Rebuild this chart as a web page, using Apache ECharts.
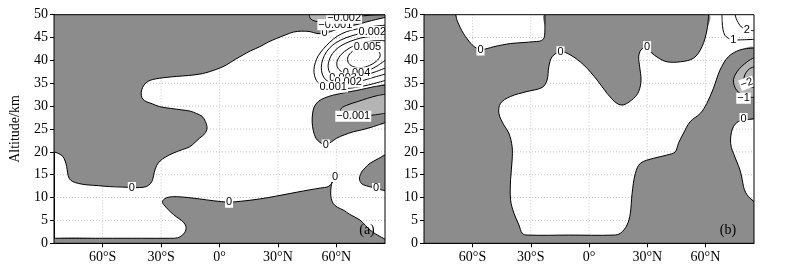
<!DOCTYPE html>
<html><head><meta charset="utf-8">
<script src="https://cdn.jsdelivr.net/npm/echarts@6/dist/echarts.min.js"></script>
<style>html,body{margin:0;padding:0;background:#fff}#c{width:793px;height:271px}</style>
</head><body><div id="c"></div>
<script>
// ---- axes ----
const lonTicks = [-60, -30, 0, 30, 60];
const lonTickLabels = ['60°S', '30°S', '0°', '30°N', '60°N'];
const altTicks = [0, 5, 10, 15, 20, 25, 30, 35, 40, 45, 50];
const gridLonLines = [-60, -30, 0, 30, 60];
const gridAltLines = [5, 10, 15, 20, 25, 30, 35, 40, 45];
const lonRange = [-85, 85];
const altRange = [0, 50];

// ---- panel (a) contours: [lon, alt] ----
const aZeroUpper = [[85,49.4],[78,48.7],[72,48.0],[66,47.4],[61.8,47.0],[57,46.3],[54,45.9],[50,45.9],[46.5,46.3],[42,46.4],[38,46.2],[34,45.6],[29.3,44.8],[25,44.0],[20.7,43.0],[16,42.1],[12.1,41.2],[8,40.2],[3.5,39.0],[0,38.3],[-3.3,37.8],[-7,37.3],[-10.2,37.0],[-16,36.7],[-22.2,36.5],[-27,36.3],[-30.8,36.1],[-34.5,35.8],[-36.8,35.4],[-38.8,34.6],[-39.9,33.6],[-40.2,32.4],[-39.3,31.5],[-37.6,31.0],[-34.5,30.5],[-30.8,29.9],[-25,29.5],[-19.6,29.2],[-15,28.9],[-11.9,28.4],[-9,27.8],[-7.2,26.6],[-6.4,25.2],[-7.5,24.0],[-10.2,23.0],[-12.5,22.1],[-15.3,21.1],[-19,20.5],[-23.9,19.7],[-28,18.8],[-30.5,18.0],[-32.3,17.0],[-33.5,15.5],[-34.3,14.0],[-35.4,13.1],[-37.6,12.4],[-41,12.2],[-45,12.2],[-50,12.3],[-56.5,12.4],[-62,12.6],[-68.5,12.8],[-72.5,13.1],[-75.4,13.5],[-77.2,14.2],[-78,15.4],[-78.5,16.8],[-79.3,18.0],[-80.5,19.0],[-82.5,19.6],[-85,20.0]];
const aZeroBottom = [[-85,1.1],[-60,1.1],[-40,1.1],[-25,1.1],[-21.5,1.2],[-19,1.8],[-17.3,2.9],[-17.5,4.0],[-19.5,5.0],[-22.2,5.8],[-25,6.8],[-27.5,7.9],[-29.3,9.0],[-28.3,9.7],[-26,10.1],[-22.2,10.2],[-16,10.0],[-10.2,9.7],[-3,9.3],[4.9,9.0],[11,9.2],[17.2,9.5],[25,10.0],[32.6,10.6],[40,11.2],[46.4,11.7],[52,12.1],[55.8,12.4],[57.8,13.2],[58.8,14.3],[59.2,14.8],[58.7,14.2],[57.8,13.4],[57.3,12.3],[57.1,11.0],[57.4,9.8],[58.4,8.7],[60.5,7.9],[63.5,7.3],[67,6.3],[72.1,5.1],[75,3.9],[77.3,2.9],[80,2.1],[82.4,1.5],[85,0.9]];
const aZeroRight = [[85,19.3],[81.5,18.5],[77.3,17.5],[74.8,16.5],[73,15.6],[71.9,14.3],[72.5,13.3],[73.9,12.8],[77,12.4],[80.4,12.0],[83,11.7],[85,11.5]];
const aZeroMid = [[85,34.6],[80,34.3],[75.6,33.9],[70,33.4],[65,33.0],[58.4,32.4],[54,31.8],[50.7,31.0],[48.6,29.8],[47.8,28.3],[47.6,26.5],[48.2,24.6],[49.5,23.0],[51.5,22.1],[54.6,21.5],[57.5,22.2],[60.2,23.0],[64,23.7],[68.8,24.4],[73,24.8],[77.3,25.3],[81,25.8],[85,26.4]];
const aNeg1Mid = [[85,32.6],[81,32.3],[76,31.7],[71,31.0],[66,30.3],[62.5,29.5],[62.5,28.6],[65.5,28.0],[68.7,27.8],[73,27.8],[78,28.0],[85,28.4]];
const aNeg1Top = [[46,50],[46.8,49.1],[49,48.6],[53,48.4],[56.5,48.5],[60,48.8],[64,49.2],[70,49.6],[78,49.9],[85,50]];
const aPos1 = [[85,47.7],[80,47.5],[75.6,47.2],[70,46.8],[65.3,46.3],[60.5,45.3],[56.7,44],[53.5,42.6],[50.7,41],[49.2,39.5],[48.5,38],[48.8,36.7],[49.8,35.6],[51.5,34.8],[54,34.3],[58.4,34.0],[62,33.9],[66,33.9],[70,34.1],[74,34.4],[79,34.9],[85,35.6]];
const aPos2 = [[85,46.5],[79,46.3],[74,46.0],[68,45.4],[62,44.4],[58,43.3],[55,41.9],[53,40.2],[52.3,38.5],[52.8,37.0],[54.5,35.8],[57,35.2],[60,34.9],[64,34.9],[68,35.1],[72,35.4],[76,35.9],[80,36.4],[85,37.0]];
const aPos3 = [[85,45.3],[80,45.3],[75,45.1],[70,44.6],[65,43.8],[61,42.8],[58,41.5],[56.3,40.0],[55.8,38.5],[56.8,37.2],[59,36.4],[62,36.0],[66,36.0],[70,36.3],[75,36.8],[80,37.5],[85,38.3]];
const aPos4 = [[85,44.3],[80,44.3],[75,44.0],[70,43.4],[66,42.5],[62.5,41.3],[60.5,39.9],[60.5,38.6],[62.5,37.6],[66,37.1],[69.5,37.0],[73,37.3],[77,37.9],[81,38.8],[85,40.0]];
const aPos5 = [[75.5,42.8],[71,42.5],[67.5,41.7],[65.8,40.5],[66.5,39.3],[69,38.6],[73,38.4],[77,38.9],[80.5,39.8],[82.5,41.0],[81.5,42.1],[78.5,42.7],[75.5,42.8]];
const aLabels = [[-45,12.2,'0',0],[4.9,9.0,'0',0],[54,45.9,'0',0],[54.6,21.5,'0',0],[59.4,14.6,'0',0],[80.4,12.0,'0',0],
  [68.7,27.8,'−0.001',0],[59.5,47.8,'−0.001',0],[64,49.2,'−0.002',0],[78.5,46.3,'0.002',0],[76,43.0,'0.005',0],
  [70.4,37.3,'0.004',0],[63.5,36.1,'0.003',0],[66.1,35.3,'0.002',0],[58.4,34.2,'0.001',0]];

// ---- panel (b) contours ----
const bZeroW1 = [[-68.7,50],[-68,48.8],[-67,47.8],[-65.5,46.5],[-63.6,45.2],[-61.8,44.2],[-60.2,43.4],[-58,42.7],[-55.9,42.3],[-52.5,42.6],[-49,43.0],[-44.5,43.4],[-40.4,43.7],[-34,43.9],[-28.4,44.1],[-25.5,44.2],[-23.6,44.6],[-22.9,45.4],[-22.7,47],[-22.7,50]];
const bZeroW2 = [[61.6,50],[60.8,46.7],[58.2,43.0],[53.9,40.5],[47,39.7],[40.2,39.7],[35.9,40.5],[31.6,41.9],[29.9,43.0],[26.8,42.3],[25.6,40.8],[26.1,38.6],[26.8,35.7],[25.6,33.2],[23,31.7],[17.9,30.3],[14.4,30.6],[9.3,32.8],[4.2,35.7],[-2.7,39.0],[-9.6,41.2],[-14.7,41.9],[-19,40.8],[-20.7,38.6],[-21.6,35.7],[-24.1,34.1],[-31.9,33.2],[-40.5,32.1],[-45.6,30.6],[-46.4,28.4],[-43.9,25.9],[-41.3,24.1],[-39.6,21.1],[-39.6,18.2],[-40.4,13.9],[-40.4,9.5],[-38.7,6.6],[-36.1,4.0],[-34.4,2.2],[-31.9,1.8],[-10,1.8],[12.7,1.8],[16.2,2.2],[19.6,4.0],[21.3,6.6],[22.2,10.9],[23.9,15.3],[26.5,17.5],[33.3,18.6],[40.2,19.3],[44.4,20.0],[46.1,21.9],[48.7,24.1],[52.1,26.6],[57.3,28.4],[60.7,30.6],[64.1,33.9],[67.5,37.9],[71.8,40.8],[77.8,42.3],[85,42.7]];
const bZeroW3 = [[85,27.3],[81,27.0],[78,26.8],[76.2,26.4],[74.5,25.6],[73.4,24.3],[72.9,22.6],[73.3,21.0],[74.4,19.7],[76,18.0],[77.8,16.0],[78.9,14.0],[79.6,12.4],[80.6,11.2],[82.2,10.2],[85,9.1]];
const bNeg1 = [[85,40.6],[82.5,40.0],[80,39.2],[77.5,38.2],[75.5,37.0],[74.4,35.8],[74.8,34.5],[76.2,33.4],[78.5,32.6],[81,32.1],[85,31.9]];
const bNeg2 = [[85,38.6],[82.8,38.2],[81,37.4],[79.9,36.3],[80,35.2],[81.2,34.6],[83,34.2],[85,34.1]];
const bPos1 = [[68.5,50],[68.6,48.5],[69,46.8],[70,45.5],[72,44.8],[74.4,44.5],[78,44.5],[85,44.6]];
const bPos2 = [[75.3,50],[75.8,49.2],[76.8,48.3],[78.5,47.3],[81.3,46.7],[85,46.5]];
const bLabels = [[-55.9,42.3,'0',0],[-14.7,41.9,'0',0],[29.9,43.0,'0',0],[74.4,44.5,'1',0],[81.3,46.7,'2',0],
  [81.3,35.0,'−2',-20],[79.6,31.7,'−1',0],[79.6,27.3,'0',0]];

// ---- styling ----
const DARK = '#8c8c8c', LIGHT = '#b4b4b4', SM = 0.35;
const rev = a => a.slice().reverse();
const L0 = lonRange[0], L1 = lonRange[1], A0 = altRange[0], A1 = altRange[1];

const aFills = [
  {ring: aZeroUpper.concat([[L0, A1], [L1, A1]]), color: DARK},
  {ring: aZeroBottom.concat([[L1, A0], [L0, A0]]), color: DARK},
  {ring: aZeroRight, color: DARK},
  {ring: aZeroMid, color: DARK},
  {ring: aNeg1Mid, color: LIGHT},
  {ring: aNeg1Top, color: LIGHT}
];
const aLines = [aZeroUpper, aZeroBottom, aZeroRight, aZeroMid, aNeg1Mid, aNeg1Top, aPos1, aPos2, aPos3, aPos4, aPos5];

const bGrayRing = [[L0, A0], [L1, A0]].concat(rev(bZeroW3), rev(bZeroW2), rev(bZeroW1), [[L0, A1]]);
const bFills = [
  {ring: bGrayRing, color: DARK},
  {ring: bNeg1, color: LIGHT}
];
const bLines = [bZeroW1, bZeroW2, bZeroW3, bNeg1, bNeg2, bPos1, bPos2];

function panelSeries(gi, fills, lines, labels) {
  const common = {type: 'custom', xAxisIndex: gi, yAxisIndex: gi, clip: true, silent: true, animation: false};
  return [
    Object.assign({}, common, {
      z: 1,
      data: gridLonLines.map(v => [v, A0]),
      renderItem: (p, api) => {
        const a = api.coord([api.value(0), A0]), b = api.coord([api.value(0), A1]);
        return {type: 'line', shape: {x1: a[0], y1: a[1], x2: b[0], y2: b[1]},
          style: {stroke: '#c4c4c4', lineWidth: 1, lineDash: [1, 2]}};
      }
    }),
    Object.assign({}, common, {
      z: 1,
      data: gridAltLines.map(v => [L0, v]),
      renderItem: (p, api) => {
        const a = api.coord([L0, api.value(1)]), b = api.coord([L1, api.value(1)]);
        return {type: 'line', shape: {x1: a[0], y1: a[1], x2: b[0], y2: b[1]},
          style: {stroke: '#c4c4c4', lineWidth: 1, lineDash: [1, 2]}};
      }
    }),
    Object.assign({}, common, {
      z: 2,
      data: fills.map(f => f.ring[0]),
      renderItem: (p, api) => {
        const f = fills[p.dataIndex];
        return {type: 'polygon', shape: {points: f.ring.map(q => api.coord(q)), smooth: SM},
          style: {fill: f.color, stroke: null}};
      }
    }),
    Object.assign({}, common, {
      z: 3,
      data: lines.map(l => l[0]),
      renderItem: (p, api) => {
        const l = lines[p.dataIndex];
        return {type: 'polyline', shape: {points: l.map(q => api.coord(q)), smooth: SM},
          style: {stroke: '#000', lineWidth: 1, fill: null}};
      }
    }),
    Object.assign({}, common, {
      z: 4,
      data: labels.map(l => [l[0], l[1]]),
      renderItem: (p, api) => {
        const l = labels[p.dataIndex];
        const c = api.coord([l[0], l[1]]);
        return {type: 'text', x: c[0], y: c[1], rotation: -l[3] * Math.PI / 180,
          style: {text: l[2], fill: '#000', font: '11px "Liberation Sans"', align: 'center', verticalAlign: 'middle',
            backgroundColor: '#fff', padding: [0, 1, 0, 1]}};
      }
    })
  ];
}

const axisText = {fontFamily: 'Liberation Serif', fontSize: 14, color: '#000'};
function xAx(gi) {
  return {type: 'value', gridIndex: gi, min: L0, max: L1,
    axisLine: {onZero: false, lineStyle: {color: '#000', width: 1}},
    axisTick: {customValues: lonTicks, length: 4, lineStyle: {color: '#000'}},
    axisLabel: Object.assign({customValues: lonTicks, margin: 7,
      formatter: v => lonTickLabels[lonTicks.indexOf(v)] || ''}, axisText),
    splitLine: {show: false}};
}
function yAx(gi, name) {
  return {type: 'value', gridIndex: gi, min: A0, max: A1, interval: 5,
    name: name, nameLocation: 'middle', nameGap: 32,
    nameTextStyle: axisText,
    axisLine: {show: true, onZero: false, lineStyle: {color: '#000', width: 1}},
    axisTick: {show: true, length: 4, lineStyle: {color: '#000'}},
    axisLabel: Object.assign({margin: 6}, axisText),
    splitLine: {show: false}};
}

const chart = echarts.init(document.getElementById('c'), null, {renderer: 'canvas'});
chart.setOption({
  animation: false,
  backgroundColor: '#fff',
  grid: [
    {left: 54, top: 14.7, width: 331, height: 228.6, show: true, borderColor: '#000', borderWidth: 1, backgroundColor: 'transparent', z: 10},
    {left: 424, top: 14.7, width: 330, height: 228.6, show: true, borderColor: '#000', borderWidth: 1, backgroundColor: 'transparent', z: 10}
  ],
  xAxis: [xAx(0), xAx(1)],
  yAxis: [yAx(0, 'Altitude/km'), yAx(1, '')],
  graphic: [
    {type: 'text', z: 20, style: {text: '(a)', x: 367, y: 230, font: '14px "Liberation Serif"', fill: '#000', align: 'center', verticalAlign: 'middle'}},
    {type: 'text', z: 20, style: {text: '(b)', x: 728, y: 230, font: '14px "Liberation Serif"', fill: '#000', align: 'center', verticalAlign: 'middle'}}
  ],
  series: panelSeries(0, aFills, aLines, aLabels).concat(panelSeries(1, bFills, bLines, bLabels))
});
</script>
</body></html>
